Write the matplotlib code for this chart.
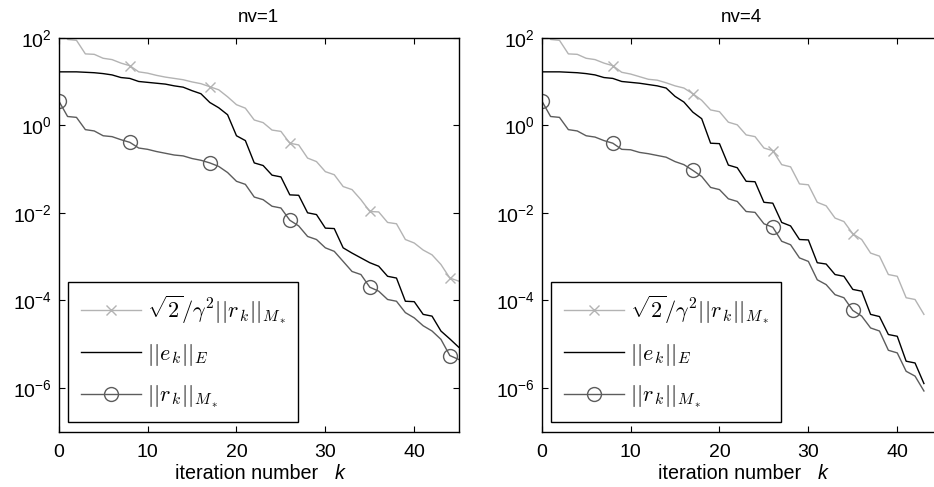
import numpy as np
import matplotlib
matplotlib.use("Agg")
import matplotlib.pyplot as plt
from matplotlib.ticker import FixedLocator, NullLocator

plt.rcParams['font.family'] = ['Liberation Sans', 'DejaVu Sans']
plt.rcParams['mathtext.fontset'] = 'cm'

# ---- data (log10 exponents) ----
titles = ["nv=1", "nv=4"]

bound_left_exp = [2.31, 1.96, 1.94, 1.63, 1.62, 1.53, 1.50, 1.42, 1.36, 1.22,
                  1.19, 1.14, 1.10, 1.07, 1.04, 0.99, 0.95, 0.88, 0.81, 0.65,
                  0.47, 0.39, 0.12, 0.06, -0.11, -0.14, -0.41, -0.45, -0.75, -0.83,
                  -1.06, -1.13, -1.40, -1.47, -1.70, -1.97, -1.98, -2.22, -2.25, -2.61,
                  -2.69, -2.85, -2.96, -3.18, -3.49, -3.56]
err_left_exp = [1.22, 1.22, 1.22, 1.21, 1.20, 1.18, 1.15, 1.09, 1.07, 1.00,
                0.98, 0.96, 0.94, 0.90, 0.87, 0.79, 0.72, 0.52, 0.40, 0.24,
                -0.24, -0.35, -0.86, -0.92, -1.14, -1.18, -1.59, -1.60, -2.00, -2.04,
                -2.35, -2.36, -2.80, -2.92, -3.03, -3.14, -3.22, -3.45, -3.49, -4.02,
                -4.03, -4.32, -4.36, -4.70, -4.88, -5.07]
res_left_exp = [0.56, 0.20, 0.18, -0.10, -0.13, -0.24, -0.26, -0.33, -0.39, -0.52,
                -0.55, -0.60, -0.64, -0.68, -0.70, -0.76, -0.80, -0.86, -0.94, -1.08,
                -1.28, -1.35, -1.64, -1.70, -1.85, -1.89, -2.17, -2.30, -2.54, -2.61,
                -2.80, -2.88, -3.11, -3.34, -3.41, -3.70, -3.79, -3.98, -4.02, -4.28,
                -4.40, -4.58, -4.70, -4.89, -5.26, -5.35]

bound_right_exp = [2.31, 1.96, 1.94, 1.63, 1.62, 1.53, 1.50, 1.42, 1.36, 1.21,
                   1.17, 1.11, 1.05, 1.03, 0.97, 0.90, 0.85, 0.72, 0.57, 0.35,
                   0.31, 0.07, 0.01, -0.22, -0.26, -0.52, -0.58, -0.90, -0.95, -1.34,
                   -1.36, -1.76, -1.84, -2.12, -2.20, -2.48, -2.61, -2.92, -2.99, -3.41,
                   -3.45, -3.94, -3.98, -4.32]
err_right_exp = [1.22, 1.22, 1.22, 1.21, 1.20, 1.18, 1.15, 1.09, 1.07, 1.00,
                 0.98, 0.96, 0.93, 0.90, 0.85, 0.66, 0.53, 0.30, 0.15, -0.41,
                 -0.42, -0.91, -0.97, -1.28, -1.29, -1.76, -1.78, -2.22, -2.30, -2.61,
                 -2.62, -3.14, -3.17, -3.41, -3.45, -3.75, -3.79, -4.32, -4.37, -4.78,
                 -4.82, -5.39, -5.43, -5.90]
res_right_exp = [0.56, 0.20, 0.18, -0.10, -0.13, -0.24, -0.27, -0.35, -0.41, -0.55,
                 -0.56, -0.62, -0.65, -0.69, -0.73, -0.83, -0.90, -1.03, -1.17, -1.42,
                 -1.47, -1.68, -1.74, -1.97, -1.99, -2.25, -2.33, -2.65, -2.73, -3.03,
                 -3.11, -3.53, -3.64, -3.87, -3.94, -4.23, -4.36, -4.63, -4.70, -5.14,
                 -5.20, -5.62, -5.73, -6.07]

marker_idx = [0, 8, 17, 26, 35, 44]
xticks = [0, 10, 20, 30, 40]
yticks = [1e-6, 1e-4, 1e-2, 1e0, 1e2]

labels = [r"$\sqrt{2}/\gamma^2||r_{\,k}||_{M_*}$", r"$||e_{\,k}||_E$", r"$||r_{\,k}||_{M_*}$"]

light = (0.7, 0.7, 0.7)
dark = (0.36, 0.36, 0.36)

W, H = 934, 487
fig = plt.figure(figsize=(W / 100, H / 100), dpi=100)

axes_px = [(58.7, 37.7, 458.7, 431.7), (541.7, 37.7, 941.7, 431.7)]
series = [(bound_left_exp, err_left_exp, res_left_exp),
          (bound_right_exp, err_right_exp, res_right_exp)]

for i, (x0, y0, x1, y1) in enumerate(axes_px):
    ax = fig.add_axes([x0 / W, (H - y1) / H, (x1 - x0) / W, (y1 - y0) / H])
    b, e, r = series[i]
    kb = np.arange(len(b))
    mk = [m for m in marker_idx if m < len(b)]
    ax.semilogy(kb, 10.0 ** np.array(b), color=light, lw=1.0, marker='x',
                markevery=mk, ms=7, mew=1.0, label=labels[0])
    ax.semilogy(np.arange(len(e)), 10.0 ** np.array(e), color='black', lw=1.0,
                label=labels[1])
    ax.semilogy(np.arange(len(r)), 10.0 ** np.array(r), color=dark, lw=1.0,
                marker='o', markevery=mk, ms=10, mfc='none', mec=dark, mew=1.0,
                label=labels[2])
    ax.set_xlim(0, 45)
    ax.set_ylim(1e-7, 1e2)
    ax.xaxis.set_major_locator(FixedLocator(xticks))
    ax.yaxis.set_major_locator(FixedLocator(yticks))
    ax.yaxis.set_minor_locator(NullLocator())
    ax.tick_params(direction='in', top=True, right=True, length=4, width=0.8,
                   labelsize=14)
    ax.tick_params(axis='x', pad=9)
    ax.tick_params(axis='y', pad=5)
    for s in ax.spines.values():
        s.set_linewidth(1.0)
    ax.set_title(titles[i], fontsize=13.5, pad=11)
    # x label: upright text plus italic k
    ybase = (y1 - 479) / (y1 - y0)
    ax.text((175 - 58.7) / 400, ybase, "iteration number", transform=ax.transAxes,
            ha='left', va='baseline', fontsize=14.2)
    ax.text((335 - 58.7) / 400, ybase, "k", transform=ax.transAxes,
            ha='left', va='baseline', fontsize=14.2, fontstyle='italic')
    leg = ax.legend(loc='lower left', bbox_to_anchor=(0.024, 0.024),
                    borderaxespad=0, fontsize=16, handlelength=2.7,
                    labelspacing=0.7, borderpad=0.55, handletextpad=0.3,
                    fancybox=False, framealpha=1.0, edgecolor='black')
    leg.get_frame().set_linewidth(1.0)

fig.savefig("out.png", dpi=100)
